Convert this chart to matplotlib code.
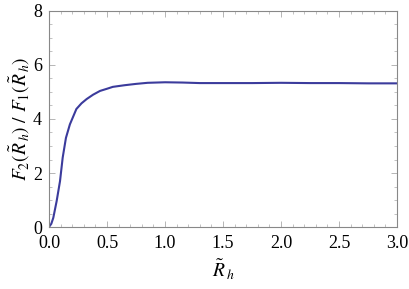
import matplotlib
matplotlib.use("Agg")
import matplotlib.pyplot as plt
from matplotlib.ticker import MultipleLocator, FormatStrFormatter

plt.rcParams['font.family'] = ['Liberation Serif', 'DejaVu Serif']
plt.rcParams['mathtext.fontset'] = 'stix'

rh = [0.0, 0.02, 0.037, 0.066, 0.095, 0.118, 0.146, 0.18, 0.236, 0.28, 0.325, 0.38, 0.44,
      0.5, 0.55, 0.65, 0.75, 0.85, 1.0, 1.15, 1.3, 1.5, 1.75, 2.0, 2.25, 2.5, 2.75, 3.0]
ratio = [0.0, 0.12, 0.34, 0.96, 1.7, 2.57, 3.3, 3.8, 4.37, 4.58, 4.74, 4.9, 5.04,
         5.12, 5.19, 5.25, 5.3, 5.34, 5.36, 5.35, 5.33, 5.33, 5.33, 5.34, 5.33, 5.33, 5.32, 5.32]

fig = plt.figure(figsize=(4.1, 2.89), dpi=100)
ax = fig.add_axes([0.1195, 0.2145, 0.849, 0.7475])
ax.plot(rh, ratio, color='#3b3b9c', lw=1.5)
ax.set_xlim(0, 3.0)
ax.set_ylim(0, 8)
ax.xaxis.set_major_locator(MultipleLocator(0.5))
ax.xaxis.set_minor_locator(MultipleLocator(0.1))
ax.yaxis.set_major_locator(MultipleLocator(2))
ax.yaxis.set_minor_locator(MultipleLocator(0.5))
ax.xaxis.set_major_formatter(FormatStrFormatter('%.1f'))
for s in ax.spines.values():
    s.set_color('#888888')
    s.set_linewidth(0.8)
ax.tick_params(which='both', direction='in', color='#aaaaaa', top=True, right=True, labelsize=13)
ax.tick_params(which='major', length=4, width=0.6)
ax.tick_params(which='minor', length=2, width=0.5)
ax.tick_params(axis='x', which='major', pad=6)
ax.tick_params(axis='y', which='major', pad=5)
ax.set_xlabel(r'$\tilde{R}_{\,h}$', fontsize=14, labelpad=4)
ax.set_ylabel(r'$F_2(\tilde{R}_{\,h})\ /\ F_1(\tilde{R}_{\,h})$', fontsize=14, labelpad=1)
fig.savefig('out.png', dpi=100)
